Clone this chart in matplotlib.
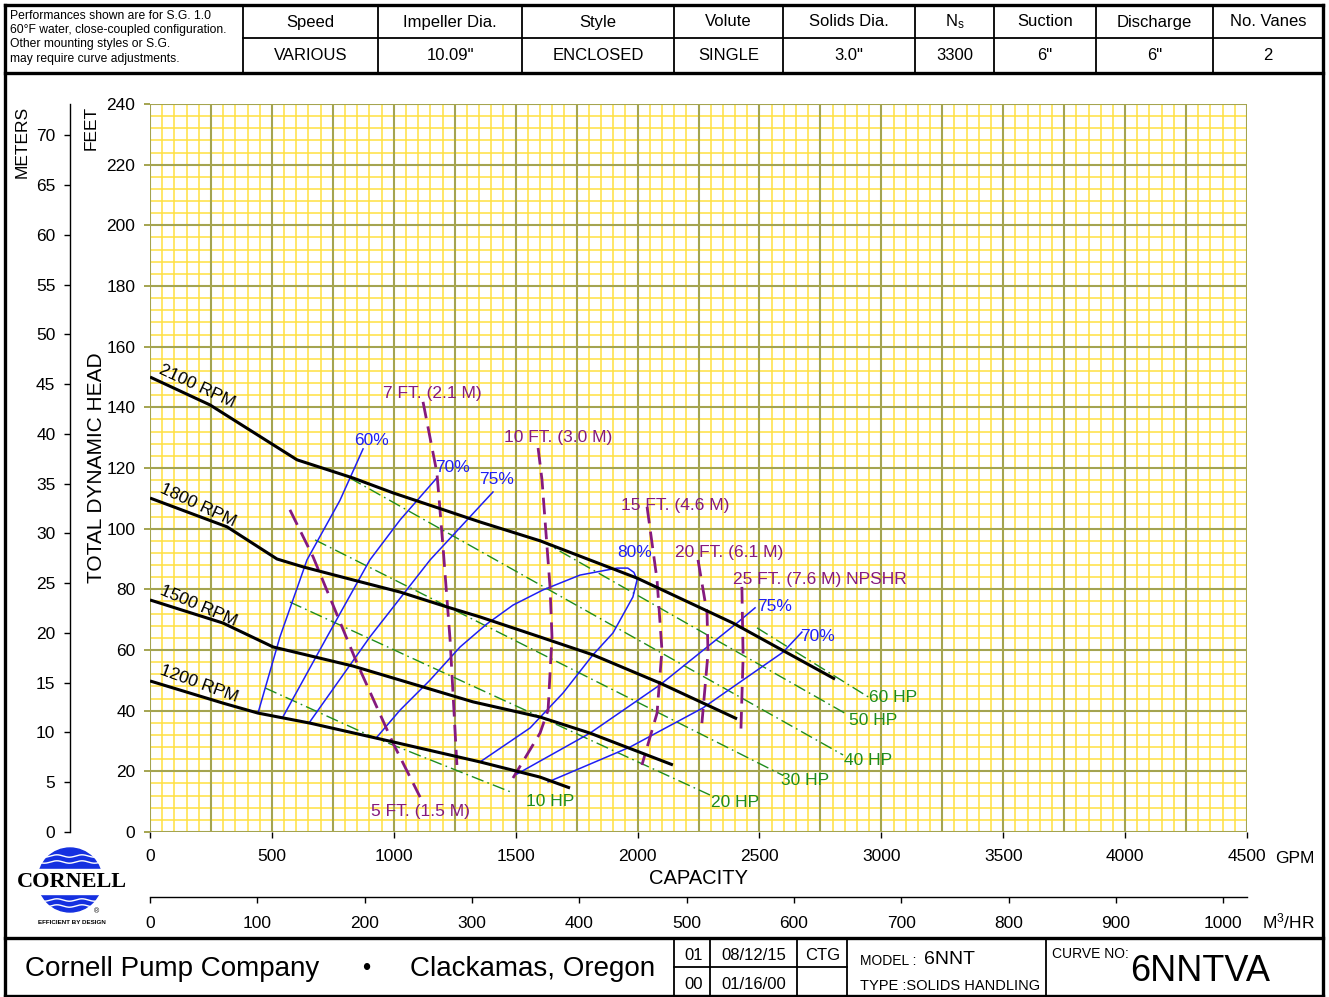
import numpy as np
import matplotlib
matplotlib.use('Agg')
import matplotlib.pyplot as plt
from matplotlib.patches import Circle, Rectangle

plt.rcParams['font.family'] = ['Liberation Sans', 'DejaVu Sans']

# ---------------- DATA ----------------
# Head-capacity curves (GPM, feet)
q_2100 = [0, 246, 603, 833, 997, 1354, 1600, 1998, 2391, 2810]
h_2100 = [150.0, 140.8, 122.7, 116.7, 111.8, 102.2, 96.0, 83.7, 68.9, 50.4]
q_1800 = [0, 316, 521, 628, 833, 1026, 1218, 1354, 1600, 1817, 2092, 2408]
h_1800 = [110.1, 100.6, 90.0, 87.4, 83.1, 79.1, 74.2, 70.9, 64.3, 58.4, 49.1, 37.3]
q_1500 = [0, 299, 505, 833, 1325, 1600, 1805, 2145]
h_1500 = [76.5, 68.9, 61.0, 54.7, 42.9, 37.9, 32.6, 22.1]
q_1200 = [0, 299, 443, 656, 997, 1354, 1600, 1723]
h_1200 = [49.8, 42.5, 39.2, 35.9, 29.7, 23.1, 18.1, 14.5]
rpm_labels = ['2100 RPM', '1800 RPM', '1500 RPM', '1200 RPM']

# Efficiency curves
q_e60 = [443, 533, 644, 779, 874]
h_e60 = [39.2, 64.3, 89.7, 109.3, 126.3]
q_e70a = [545, 726, 902, 1026, 1173]
h_e70a = [37.9, 64.3, 89.7, 102.9, 116.4]
q_e75a = [652, 902, 1149, 1407]
h_e75a = [35.9, 64.3, 89.7, 112.1]
q_e80 = [931, 1026, 1149, 1272, 1382, 1489, 1612, 1764, 1916, 1960, 1985, 1998,
         1981, 1899, 1817, 1694, 1559, 1354]
h_e80 = [31.3, 40.2, 50.1, 61.0, 68.6, 74.8, 79.8, 84.7, 87.0, 87.0, 85.6, 83.1,
         77.5, 65.6, 58.4, 45.8, 34.3, 23.1]
q_e75b = [1505, 1805, 2092, 2408, 2482]
h_e75b = [19.1, 32.6, 48.5, 68.9, 73.9]
q_e70b = [1633, 1969, 2268, 2597, 2674]
h_e70b = [16.5, 28.0, 40.9, 59.3, 65.9]
eff_labels = ['60%', '70%', '75%', '80%', '75%', '70%']

# NPSHR curves
q_n5 = [574, 669, 849, 997, 1108]
h_n5 = [106.2, 90.7, 55.7, 29.3, 11.5]
q_n7 = [1120, 1177, 1202, 1231, 1259]
h_n7 = [141.8, 118.4, 94.0, 63.3, 22.1]
q_n10 = [1592, 1608, 1641, 1649, 1633, 1600, 1489]
h_n10 = [126.6, 116.1, 80.8, 64.3, 40.2, 32.6, 17.8]
q_n15 = [2039, 2080, 2100, 2080, 2018]
h_n15 = [107.2, 83.1, 60.0, 39.2, 22.1]
q_n20 = [2248, 2285, 2289, 2264]
h_n20 = [89.7, 72.2, 59.0, 35.9]
q_n25 = [2428, 2433, 2424]
h_n25 = [80.8, 57.7, 33.6]
npsh_labels = ['5 FT. (1.5 M)', '7 FT. (2.1 M)', '10 FT. (3.0 M)',
               '15 FT. (4.6 M)', '20 FT. (6.1 M)', '25 FT. (7.6 M) NPSHR']

# Horsepower lines
q_hp10 = [472, 915, 1489]
h_hp10 = [47.5, 31.3, 12.9]
q_hp20 = [574, 2297]
h_hp20 = [75.8, 12.2]
q_hp30 = [677, 2593]
h_hp30 = [96.3, 18.8]
q_hp40 = [820, 2843]
h_hp40 = [116.7, 25.4]
q_hp50 = [1600, 2863]
h_hp50 = [96.3, 38.6]
q_hp60 = [2490, 2953]
h_hp60 = [67.3, 44.2]
hp_labels = ['10 HP', '20 HP', '30 HP', '40 HP', '50 HP', '60 HP']

gpm_ticks = list(range(0, 4501, 500))
ft_ticks = list(range(0, 241, 20))
m_ticks = list(range(0, 71, 5))
m3_ticks = list(range(0, 1001, 100))

header_cols = ['Speed', 'Impeller Dia.', 'Style', 'Volute', 'Solids Dia.',
               '$\\mathregular{N_s}$', 'Suction', 'Discharge', 'No. Vanes']
header_vals = ['VARIOUS', '10.09"', 'ENCLOSED', 'SINGLE', '3.0"', '3300',
               '6"', '6"', '2']
notes = ['Performances shown are for S.G. 1.0',
         '60\u00b0F water, close-coupled configuration.',
         'Other mounting styles or S.G.',
         'may require curve adjustments.']

# ---------------- FIGURE ----------------
W, H = 1329, 997
fig = plt.figure(figsize=(W / 100, H / 100), dpi=100)
fig.patch.set_facecolor('white')

def fx(px):
    return px / W

def fy(py):
    return 1 - py / H

bg = fig.add_axes([0, 0, 1, 1])
bg.set_xlim(0, W)
bg.set_ylim(H, 0)
bg.axis('off')

L, R, T, B = 150, 1247, 104, 832
ax = fig.add_axes([fx(L), fy(B), (R - L) / W, (B - T) / H])
ax.set_xlim(0, 4500)
ax.set_ylim(0, 240)
for s in ax.spines.values():
    s.set_visible(False)

minor_c = '#FFE040'
major_c = '#A4A450'
for q in range(0, 4501, 50):
    if q % 250 == 0:
        ax.axvline(q, color=major_c, lw=1.5, zorder=1)
    else:
        ax.axvline(q, color=minor_c, lw=1.1, zorder=0.5)
for hh in range(0, 241, 4):
    if hh % 20 == 0:
        ax.axhline(hh, color=major_c, lw=1.5, zorder=1)
    else:
        ax.axhline(hh, color=minor_c, lw=1.1, zorder=0.5)

ax.set_xticks(gpm_ticks)
ax.set_xticklabels([str(v) for v in gpm_ticks])
ax.set_yticks(ft_ticks)
ax.set_yticklabels([str(v) for v in ft_ticks])
ax.tick_params(axis='x', length=4.5, width=1, color='black', labelsize=12.5, pad=8)
ax.tick_params(axis='y', length=4.5, width=1.4, color=major_c, labelsize=12.5, pad=6)

# head curves
for q, h in [(q_2100, h_2100), (q_1800, h_1800), (q_1500, h_1500), (q_1200, h_1200)]:
    ax.plot(q, h, color='black', lw=2.2, zorder=5, solid_capstyle='butt',
            solid_joinstyle='round')
rpm_pos = [(193, 147.0, -25), (197, 107.8, -25), (199, 74.5, -23), (203, 48.8, -20)]
for lab, (x, y, r) in zip(rpm_labels, rpm_pos):
    ax.text(x, y, lab, rotation=r, rotation_mode='anchor', ha='center', va='center',
            fontsize=12.5, color='black', zorder=6)

# efficiency curves
blue = '#1F1FF5'
for q, h in [(q_e60, h_e60), (q_e70a, h_e70a), (q_e75a, h_e75a), (q_e80, h_e80),
             (q_e75b, h_e75b), (q_e70b, h_e70b)]:
    ax.plot(q, h, color=blue, lw=1.1, zorder=4, solid_joinstyle='round')
eff_pos = [(907, 129.2), (1239, 120.3), (1423, 116.1), (1989, 92.0), (2564, 74.5), (2740, 64.3)]
for lab, (x, y) in zip(eff_labels, eff_pos):
    ax.text(x, y, lab, ha='center', va='center', fontsize=12.5, color=blue, zorder=6)

# NPSHR curves
purple = '#85197F'
for q, h in [(q_n5, h_n5), (q_n7, h_n7), (q_n10, h_n10), (q_n15, h_n15),
             (q_n20, h_n20), (q_n25, h_n25)]:
    ax.plot(q, h, color=purple, lw=2.0, ls=(0, (6, 3)), zorder=4)
npsh_pos = [(1108, 6.9), (1157, 144.7), (1674, 130.2), (2154, 107.8), (2375, 92.3), (2748, 83.1)]
for lab, (x, y) in zip(npsh_labels, npsh_pos):
    ax.text(x, y, lab, ha='center', va='center', fontsize=12.5, color=purple, zorder=6)

# HP lines
green = '#1E8C1E'
for q, h in [(q_hp10, h_hp10), (q_hp20, h_hp20), (q_hp30, h_hp30), (q_hp40, h_hp40),
             (q_hp50, h_hp50), (q_hp60, h_hp60)]:
    ax.plot(q, h, color=green, lw=1.0, ls=(0, (9, 3, 1.2, 3)), zorder=3)
hp_pos = [(1641, 10.2), (2400, 9.6), (2687, 17.1), (2945, 23.7), (2966, 36.6), (3048, 44.2)]
for lab, (x, y) in zip(hp_labels, hp_pos):
    ax.text(x, y, lab, ha='center', va='center', fontsize=12.5, color=green, zorder=6)

# meters axis
axm = fig.add_axes([fx(70), fy(B), 0.0005, (B - T) / H])
axm.set_ylim(0, 240 / 3.28084)
axm.patch.set_visible(False)
for k in ['top', 'right', 'bottom']:
    axm.spines[k].set_visible(False)
axm.spines['left'].set_linewidth(1.0)
axm.set_xticks([])
axm.set_yticks(m_ticks)
axm.set_yticklabels([str(v) for v in m_ticks])
axm.tick_params(axis='y', length=4.5, width=1, labelsize=12.5, pad=6)

# m3/hr axis
axq = fig.add_axes([fx(L), fy(897), (R - L) / W, 0.0001])
axq.set_xlim(0, 4500 / 4.402868)
axq.patch.set_visible(False)
for k in ['top', 'right', 'left']:
    axq.spines[k].set_visible(False)
axq.spines['bottom'].set_linewidth(1.0)
axq.set_yticks([])
axq.set_xticks(m3_ticks)
axq.set_xticklabels([str(v) for v in m3_ticks])
axq.tick_params(axis='x', length=4.5, width=1, labelsize=12.5, pad=9)

# axis titles
bg.text(22, 142, 'METERS', rotation=90, ha='center', va='center', fontsize=12.5)
bg.text(91, 128, 'FEET', rotation=90, ha='center', va='center', fontsize=12.5)
bg.text(97, 468, 'TOTAL DYNAMIC HEAD', rotation=90, ha='center', va='center', fontsize=15)
bg.text(698, 878, 'CAPACITY', ha='center', va='center', fontsize=14.5)
bg.text(1295, 858, 'GPM', ha='center', va='center', fontsize=12.5)
bg.text(1288, 921, 'M$\\mathregular{^3}$/HR', ha='center', va='center', fontsize=12.5)

# ---------------- FRAME / TABLES ----------------
def hline(y, x0, x1, lw):
    bg.plot([x0, x1], [y, y], color='black', lw=lw, solid_capstyle='projecting')

def vline(x, y0, y1, lw):
    bg.plot([x, x], [y0, y1], color='black', lw=lw, solid_capstyle='projecting')

thick, thin = 2.4, 1.3
vline(5, 5, 997, thick)
vline(1323, 5, 997, thick)
hline(5, 5, 1323, thick)
hline(73, 5, 1323, thick)
hline(38, 243, 1323, thin)
col_edges = [243, 378, 522, 674, 783, 915, 994, 1096, 1213, 1323]
for x in col_edges[:-1]:
    vline(x, 5, 73, thin)
for i, (c, v) in enumerate(zip(header_cols, header_vals)):
    xc = (col_edges[i] + col_edges[i + 1]) / 2
    bg.text(xc, 22, c, ha='center', va='center', fontsize=12)
    bg.text(xc, 56, v, ha='center', va='center', fontsize=12)
for i, n in enumerate(notes):
    bg.text(10, 16 + i * 14.2, n, ha='left', va='center', fontsize=8.7)

# footer
hline(938, 5, 1323, thick)
hline(996, 5, 1323, thick)
for x in [674, 710, 797, 847, 1046]:
    vline(x, 938, 997, thin)
hline(967, 674, 847, thin)
bg.text(25, 969, 'Cornell Pump Company', ha='left', va='center', fontsize=20)
bg.text(366, 969, '\u2022', ha='center', va='center', fontsize=17)
bg.text(410, 969, 'Clackamas, Oregon', ha='left', va='center', fontsize=20)
bg.text(694, 955, '01', ha='center', va='center', fontsize=12)
bg.text(754, 955, '08/12/15', ha='center', va='center', fontsize=12)
bg.text(823, 955, 'CTG', ha='center', va='center', fontsize=12)
bg.text(694, 984, '00', ha='center', va='center', fontsize=12)
bg.text(754, 984, '01/16/00', ha='center', va='center', fontsize=12)
bg.text(860, 961, 'MODEL :', ha='left', va='center', fontsize=10)
bg.text(924, 959, '6NNT', ha='left', va='center', fontsize=14)
bg.text(860, 986, 'TYPE :SOLIDS HANDLING', ha='left', va='center', fontsize=10.5)
bg.text(1052, 954, 'CURVE NO:', ha='left', va='center', fontsize=10)
bg.text(1130, 971, '6NNTVA', ha='left', va='center', fontsize=26)

# logo
lblue = '#1530E0'
bg.add_patch(Circle((70, 880), 32, color=lblue, zorder=2))
bg.add_patch(Rectangle((30, 869), 80, 25, color='white', zorder=3))
xs = np.linspace(38, 102, 200)
for yb in [856, 862, 900, 906]:
    bg.plot(xs, yb + 1.2 * np.sin((xs - 38) / 4.0), color='white', lw=1.0, zorder=3)
bg.text(72, 882, 'CORNELL', ha='center', va='center', fontsize=16, weight='bold',
        family=['Liberation Serif', 'DejaVu Serif'], zorder=4)
bg.text(72, 922, 'EFFICIENT BY DESIGN', ha='center', va='center', fontsize=4.5,
        weight='bold', zorder=4)
bg.text(97, 912, '\u00ae', ha='center', va='center', fontsize=5, zorder=4)

fig.savefig('out.png', dpi=100)
